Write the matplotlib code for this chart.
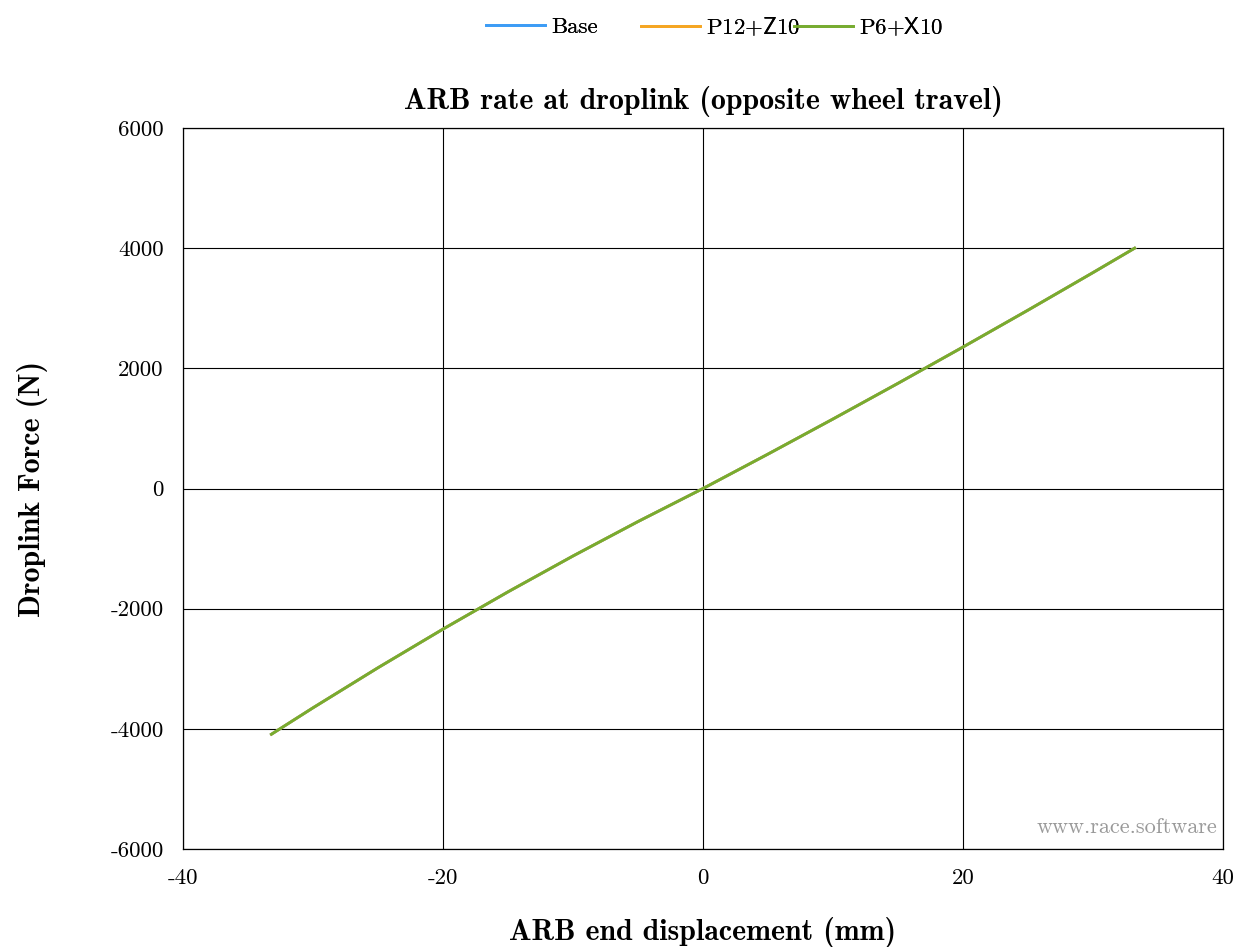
import matplotlib
matplotlib.use("Agg")
import matplotlib.pyplot as plt
from matplotlib.lines import Line2D

# Computer Modern look
plt.rcParams["font.family"] = ["cmr10", "DejaVu Serif"]
plt.rcParams["mathtext.fontset"] = "cm"
plt.rcParams["axes.formatter.use_mathtext"] = True

# data (mm, N)
disp = [-33.2, -30, -25, -20, -15, -10, -5, 0, 5, 10, 15, 20, 25, 30, 33.2]
base = [-4090, -3650, -2983, -2340, -1720, -1123, -550, 0, 573, 1157, 1751, 2355, 2969, 3594, 4000]
p12_z10 = [-4090, -3650, -2983, -2340, -1720, -1123, -550, 0, 573, 1157, 1751, 2355, 2969, 3594, 4000]
p6_x10 = [-4090, -3650, -2983, -2340, -1720, -1123, -550, 0, 573, 1157, 1751, 2355, 2969, 3594, 4000]

series_names = ["Base", r"P12$\mathsf{+Z}$10", r"P6$\mathsf{+X}$10"]
colors = ["#3d9cf5", "#f5a623", "#77ac30"]

xticks = [-40, -20, 0, 20, 40]
yticks = [-6000, -4000, -2000, 0, 2000, 4000, 6000]

fig = plt.figure(figsize=(12.4, 9.47), dpi=100)
ax = fig.add_axes([0.1476, 0.1035, 0.8387, 0.7613])

for ys, c, name in zip([base, p12_z10, p6_x10], colors, series_names):
    ax.plot(disp, ys, color=c, lw=2, label=name)

ax.set_xlim(-40, 40)
ax.set_ylim(-6000, 6000)
ax.set_xticks(xticks)
ax.set_xticklabels([str(t) for t in xticks])
ax.set_yticks(yticks)
ax.set_yticklabels([str(t) for t in yticks])
ax.tick_params(length=0, labelsize=16.5)
ax.tick_params(axis="x", pad=14)
ax.tick_params(axis="y", pad=14)
ax.grid(True, color="black", lw=0.8)
for s in ax.spines.values():
    s.set_linewidth(0.9)

ax.set_title("ARB rate at droplink (opposite wheel travel)", fontfamily="cmb10",
             fontsize=21.5, pad=14)
ax.set_xlabel("ARB end displacement (mm)", fontfamily="cmb10", fontsize=21.5, labelpad=21)
ax.set_ylabel("Droplink Force (N)", fontfamily="cmb10", fontsize=21.5, labelpad=45)

ax.text(0.995, 0.03, "www.race.software", transform=ax.transAxes, ha="right",
        va="center", color="#999999", fontsize=16)

# legend entries sit in equal-width slots across the top
slot_x = [486 / 1240, 641 / 1240, 794 / 1240]
for x0, c, name in zip(slot_x, colors, series_names):
    h = Line2D([], [], color=c, lw=2)
    leg = fig.legend([h], [name], loc="center left", bbox_to_anchor=(x0, 1 - 27 / 947),
                     frameon=False, fontsize=16.5, handlelength=2.57,
                     handletextpad=0.26, borderpad=0, borderaxespad=0)
    fig.add_artist(leg)

fig.savefig("out.png", dpi=100)
